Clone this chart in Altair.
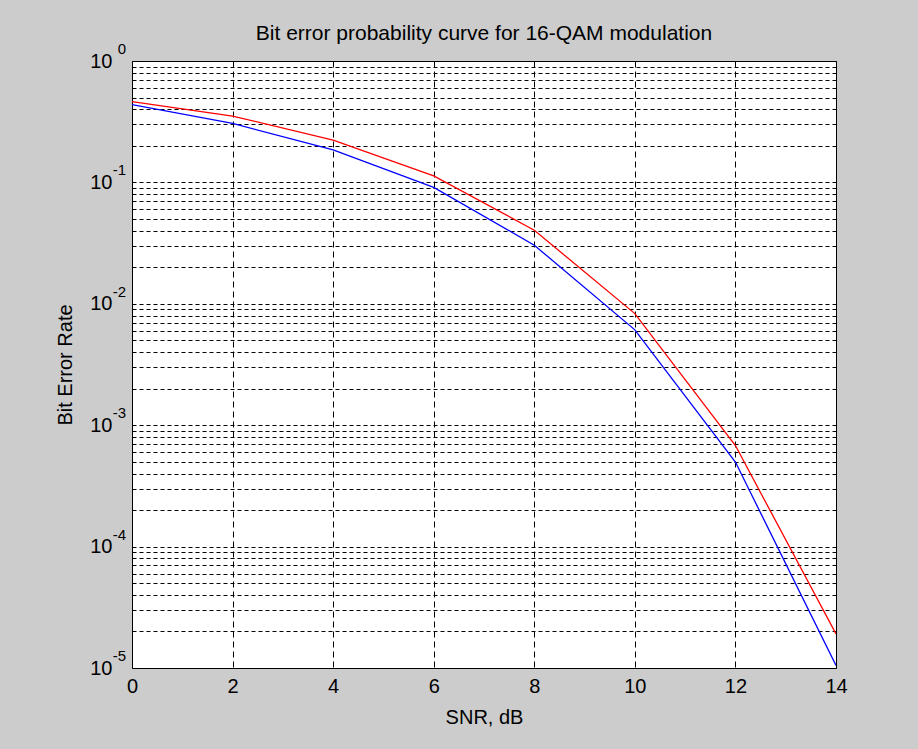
import altair as alt
import pandas as pd

# ---- data ----
snr_db = [0, 2, 4, 6, 8, 10, 12, 14]
ber_red = [0.462, 0.352, 0.223, 0.113, 0.0404, 0.0083, 0.00068, 0.0000191]
ber_blue = [0.437, 0.306, 0.185, 0.091, 0.0304, 0.0061, 0.000497, 0.0000105]
series_names = ["red", "blue"]
series_colors = ["#ff0000", "#0000ff"]

x_tick_values = [0, 2, 4, 6, 8, 10, 12, 14]
decade_exponents = [0, -1, -2, -3, -4, -5]
y_tick_values = [m * 10.0 ** e for e in range(-5, 0) for m in range(1, 10)] + [1.0]

FONT = "Liberation Sans"
BG = "#cccccc"

df = pd.DataFrame({
    "snr": snr_db + snr_db,
    "ber": ber_red + ber_blue,
    "series": [series_names[0]] * len(snr_db) + [series_names[1]] * len(snr_db),
})
df_exp = pd.DataFrame({
    "ber": [10.0 ** e for e in decade_exponents],
    "exp": [str(e) for e in decade_exponents],
})

yscale = alt.Scale(type="log", domain=[1e-5, 1], nice=False)
xscale = alt.Scale(domain=[0, 14], nice=False, zero=False)

is_decade = "abs(log(datum.value)/LN10 - round(log(datum.value)/LN10)) < 0.001 ? '10' : ''"

y_axis = alt.Axis(
    values=y_tick_values, labelExpr=is_decade, title="Bit Error Rate",
    grid=True, gridDash=[4, 3], gridColor="black", gridOpacity=1, gridWidth=1,
    ticks=False, domain=False, labelOverlap=False, labelFlush=False,
    labelPadding=20, titlePadding=14,
    labelFont=FONT, titleFont=FONT, labelFontSize=20, titleFontSize=20,
    titleFontWeight="normal", labelColor="black", titleColor="black")

lines = alt.Chart(df).mark_line(strokeWidth=1.3, clip=True).encode(
    x=alt.X("snr:Q", scale=xscale, axis=alt.Axis(
        values=x_tick_values, format="d", title="SNR, dB",
        grid=True, gridDash=[6, 4], gridColor="black", gridOpacity=1, gridWidth=1,
        ticks=False, domain=False, labelFlush=False, labelOverlap=False,
        labelPadding=8, titlePadding=11,
        labelFont=FONT, titleFont=FONT, labelFontSize=20, titleFontSize=20,
        titleFontWeight="normal", labelColor="black", titleColor="black")),
    y=alt.Y("ber:Q", scale=yscale, axis=y_axis, title="Bit Error Rate"),
    color=alt.Color("series:N", scale=alt.Scale(domain=series_names, range=series_colors), legend=None),
    order=alt.Order("snr:Q"),
)

exponents = alt.Chart(df_exp).mark_text(
    align="right", baseline="alphabetic", dy=-7, fontSize=15, font=FONT, color="black"
).encode(
    y=alt.Y("ber:Q", scale=yscale, axis=y_axis, title="Bit Error Rate"),
    x=alt.value(-6),
    text="exp:N",
)

chart = alt.layer(lines, exponents).properties(
    width=704,
    height=607,
    autosize=alt.AutoSizeParams(type="none"),
    padding={"left": 132, "top": 61, "right": 82, "bottom": 81},
    background=BG,
    title=alt.TitleParams(
        "Bit error probability curve for 16-QAM modulation",
        font=FONT, fontSize=21, fontWeight="normal", color="black",
        anchor="middle", offset=-2,
    ),
).configure_view(fill="white", stroke="black", strokeWidth=1)

chart.save("out.html", embed_options={"renderer": "svg", "actions": False})
